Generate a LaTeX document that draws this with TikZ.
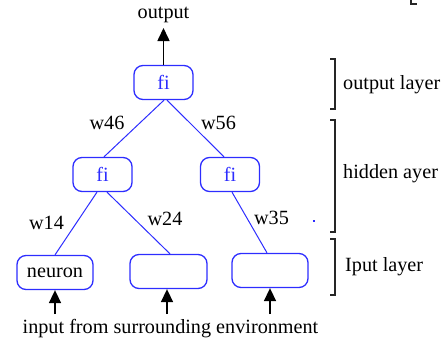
\documentclass[tikz,border=0pt]{standalone}
\usepackage{fontspec}
\setmainfont{Liberation Serif}
\usetikzlibrary{arrows.meta}
\definecolor{nodeblue}{RGB}{45,45,255}
\newcommand{\labfont}{\fontsize{20.2}{24}\selectfont}
\tikzset{
  neuronbox/.style={draw=nodeblue, line width=1.3pt, rounded corners=9pt, inner sep=0pt,
    minimum height=34pt, font=\labfont},
  wlabel/.style={anchor=base, inner sep=0pt, font=\labfont},
  conn/.style={draw=nodeblue, line width=1pt},
  feed/.style={line width=1.6pt, -{Triangle[width=12pt,length=13pt]}},
  bracket/.style={line width=1.4pt, draw=black!85},
}
\begin{document}
\begin{tikzpicture}[x=1pt,y=-1pt]
\useasboundingbox (0,0) rectangle (447,343);
% neurons
\node[neuronbox, minimum width=59pt, text=nodeblue] (o) at (163.5,82.5) {fi};
\node[neuronbox, minimum width=59pt, text=nodeblue] (h1) at (102.5,174.5) {fi};
\node[neuronbox, minimum width=59pt, text=nodeblue] (h2) at (230,174.5) {fi};
\node[neuronbox, minimum width=76pt] (i1) at (55,272.5) {neuron};
\node[neuronbox, minimum width=77pt] (i2) at (168.5,271.5) {};
\node[neuronbox, minimum width=76pt] (i3) at (270,270.5) {};
% texts
\node[wlabel] (out) at (163.5,18) {output};
\node[wlabel] (w46) at (107,129) {w46};
\node[wlabel] (w56) at (218.5,129) {w56};
\node[wlabel] (w14) at (46.5,229) {w14};
\node[wlabel] (w24) at (165,225) {w24};
\node[wlabel] (w35) at (271.5,224) {w35};
\node[wlabel] (inp) at (170.5,333) {input from surrounding environment};
\node[wlabel, anchor=base west] (lo) at (343,89.5) {output layer};
\node[wlabel, anchor=base west] (lh) at (343,178) {hidden ayer};
\node[wlabel, anchor=base west] (li) at (345,271) {Iput layer};
% connectors
\draw[conn] ([xshift=0.5pt]o.south) -- ([xshift=1.5pt]h1.north);
\draw[conn] ([xshift=3.5pt]o.south) -- ([xshift=-6pt]h2.north);
\draw[conn] ([xshift=-5.5pt]h1.south) -- (i1.north);
\draw[conn] ([xshift=4.5pt]h1.south) -- ([xshift=1.5pt]i2.north);
\draw[conn] ([xshift=2pt]h2.south) -- ([xshift=-3pt]i3.north);
% arrows
\coordinate (otip) at (163.5,28);
\draw[feed] (o.north) -- (otip);
\coordinate (a1) at (55,314);
\coordinate (a2) at (167,314);
\coordinate (a3) at (270,314);
\draw[feed] (a1) -- (i1.south);
\draw[feed] (a2) -- ([xshift=-1.5pt]i2.south);
\draw[feed] (a3) -- (i3.south);
% brackets
\draw[bracket] (330,59) -- (335,59) -- (335,109) -- (330,109);
\draw[bracket] (330,120) -- (335,120) -- (335,232) -- (330,232);
\draw[bracket] (330,239) -- (335,239) -- (335,295) -- (330,295);
\draw[bracket] (411,0) -- (411,4) -- (417,4);
% stray dot
\fill[nodeblue] (313.2,220.2) rectangle (314.8,221.8);
\end{tikzpicture}
\end{document}
